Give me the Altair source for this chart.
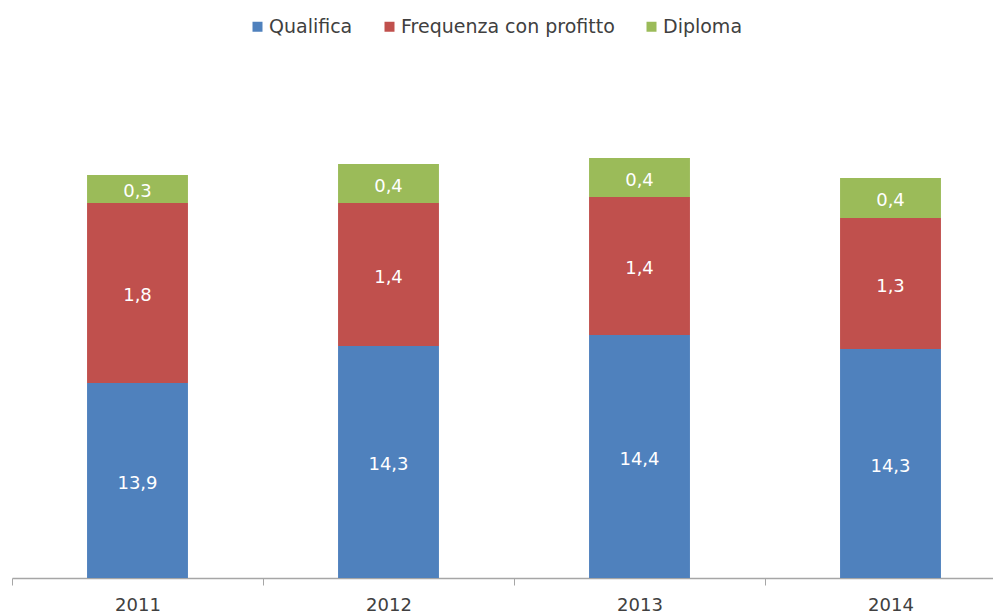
import altair as alt
import pandas as pd

years = ["2011", "2012", "2013", "2014"]
series = ["Qualifica", "Frequenza con profitto", "Diploma"]
qualifica = [13.95, 14.32, 14.43, 14.29]
frequenza = [1.80, 1.43, 1.38, 1.31]
diploma = [0.28, 0.39, 0.39, 0.40]
colors = ["#4F81BD", "#C0504D", "#9BBB59"]

Y_MIN, Y_MAX = 12, 17

rows = []
for i, yr in enumerate(years):
    base = 0.0
    for k, (name, vals) in enumerate(zip(series, [qualifica, frequenza, diploma])):
        v = vals[i]
        y0, y1 = base, base + v
        rows.append({
            "year": yr, "series": name, "order": k, "value": v,
            "y0": y0, "y1": y1,
            "mid": (max(y0, Y_MIN) + y1) / 2,
            "label": f"{v:.1f}".replace(".", ","),
        })
        base = y1
df = pd.DataFrame(rows)

FONT = "DejaVu Sans"

x_enc = alt.X(
    "year:N",
    sort=years,
    scale=alt.Scale(range=[0, 1004], paddingInner=0, paddingOuter=0),
    axis=alt.Axis(
        title=None, labelAngle=0, tickBand="extent", tickSize=7,
        tickColor="#A6A6A6", domainColor="#A6A6A6", domainWidth=1.3,
        labelFont=FONT, labelFontSize=18, labelColor="#404040", labelPadding=11,
    ),
)

yscale = alt.Scale(domain=[Y_MIN, Y_MAX], zero=False, nice=False)

bars = alt.Chart(df).mark_bar(clip=True, width=alt.RelativeBandSize(0.402)).encode(
    x=x_enc,
    y=alt.Y("y0:Q", scale=yscale, axis=None),
    y2="y1:Q",
    color=alt.Color(
        "series:N",
        sort=series,
        scale=alt.Scale(domain=series, range=colors),
        legend=alt.Legend(
            title=None, orient="none", direction="horizontal",
            legendX=236, legendY=-61, symbolType="square", symbolSize=100,
            symbolStrokeWidth=0, labelFont=FONT, labelFontSize=19,
            labelColor="#404040", labelOffset=2, columnPadding=27,
            labelLimit=0,
        ),
    ),
    order="order:Q",
)

labels = alt.Chart(df).mark_text(
    color="white", font=FONT, fontSize=18, baseline="middle", align="center", dy=3
).encode(
    x=alt.X("year:N", sort=years),
    y=alt.Y("mid:Q", scale=yscale),
    text="label:N",
)

chart = (
    alt.layer(bars, labels)
    .properties(
        width=981, height=500,
        autosize=alt.AutoSizeParams(type="none"),
        padding={"left": 4, "top": 70, "right": 0, "bottom": 35},
    )
    .configure_view(stroke=None)
)

chart.save("out.html", embed_options={"renderer": "svg", "actions": False})
